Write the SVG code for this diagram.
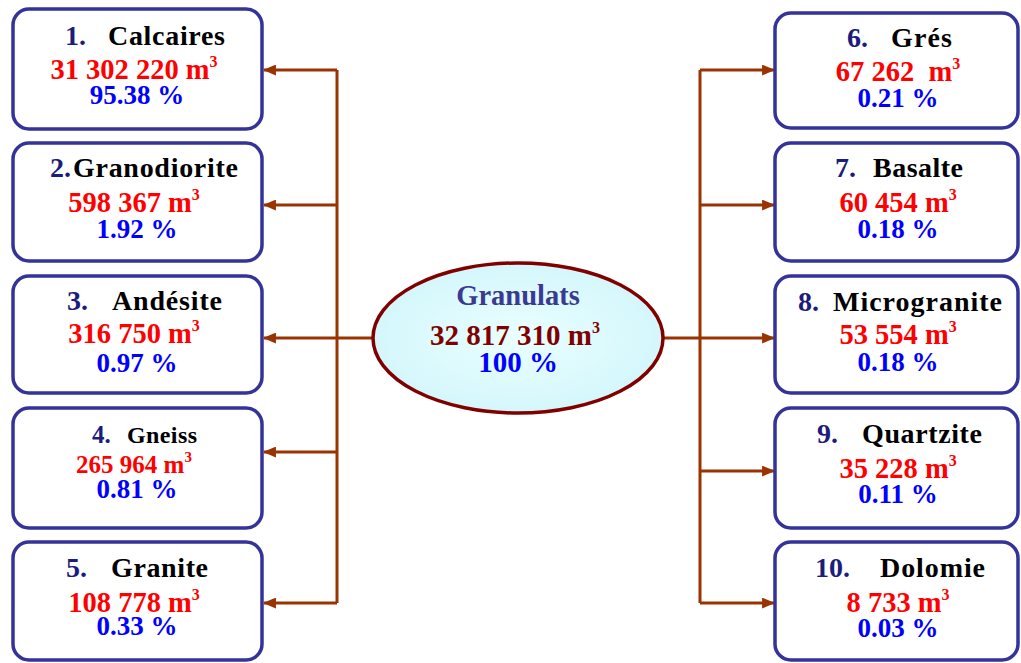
<svg xmlns="http://www.w3.org/2000/svg" width="1021" height="663" viewBox="0 0 1021 663">
<style>
.box{fill:#fff;stroke:#33339a;stroke-width:3.5}
.t{font-family:"Liberation Serif","Times New Roman",serif;font-weight:bold}
.n{fill:#1c1c7c;font-size:28px}
.nm{fill:#000;font-size:28px}
.r{fill:#ff0000;font-size:28.5px;text-anchor:middle;white-space:pre}
.p{fill:#0000ff;font-size:27px;text-anchor:middle}
.sup{font-size:16px}
.con{fill:none;stroke:#993300;stroke-width:3}
</style>
<defs>
<marker id="ah" viewBox="0 0 12 10" refX="11" refY="5" markerWidth="13" markerHeight="11" markerUnits="userSpaceOnUse" orient="auto">
<path d="M0,0 L12,5 L0,10 Z" fill="#993300"/>
</marker>
<radialGradient id="eg" cx="0.5" cy="0.5" r="0.55">
<stop offset="0" stop-color="#eaffff"/>
<stop offset="1" stop-color="#d2f6fb"/>
</radialGradient>
</defs>
<g id="connectors">
<path class="con" d="M375,338 H337"/>
<path class="con" d="M337,70 V603"/>
<path class="con" d="M337,70 H264" marker-end="url(#ah)"/>
<path class="con" d="M337,205 H264" marker-end="url(#ah)"/>
<path class="con" d="M337,338 H264" marker-end="url(#ah)"/>
<path class="con" d="M337,452 H264" marker-end="url(#ah)"/>
<path class="con" d="M337,603 H264" marker-end="url(#ah)"/>
<path class="con" d="M662,338 H700"/>
<path class="con" d="M700,70 V603"/>
<path class="con" d="M700,70 H774" marker-end="url(#ah)"/>
<path class="con" d="M700,205 H774" marker-end="url(#ah)"/>
<path class="con" d="M700,338 H774" marker-end="url(#ah)"/>
<path class="con" d="M700,471 H774" marker-end="url(#ah)"/>
<path class="con" d="M700,603 H774" marker-end="url(#ah)"/>
</g>
<g id="center">
<ellipse cx="518" cy="338" rx="145" ry="75" fill="url(#eg)" stroke="#800000" stroke-width="3.5"/>
<text class="t" x="518" y="305" text-anchor="middle" font-size="28.5" fill="#3a3a92">Granulats</text>
<text class="t" x="515" y="345" text-anchor="middle" font-size="29" fill="#800000">32 817 310 m<tspan class="sup" dy="-12">3</tspan></text>
<text class="t" x="518" y="372" text-anchor="middle" font-size="29" fill="#0000ff">100 %</text>
</g>
<g id="n1">
<rect class="box" x="13" y="9" width="249" height="120" rx="16"/>
<text class="t n" x="65" y="45">1.</text><text class="t nm" x="108" y="45" textLength="117">Calcaires</text>
<text class="t r" x="134" y="79">31 302 220 m<tspan class="sup" dy="-12">3</tspan></text>
<text class="t p" x="137" y="104">95.38 %</text>
</g>
<g id="n2">
<rect class="box" x="13" y="143" width="249" height="118" rx="16"/>
<text class="t n" x="50" y="177">2.</text><text class="t nm" x="73" y="177" textLength="165">Granodiorite</text>
<text class="t r" x="134" y="212">598 367 m<tspan class="sup" dy="-12">3</tspan></text>
<text class="t p" x="137" y="238">1.92 %</text>
</g>
<g id="n3">
<rect class="box" x="13" y="276" width="249" height="117" rx="16"/>
<text class="t n" x="67" y="310">3.</text><text class="t nm" x="112" y="310" textLength="110">Andésite</text>
<text class="t r" x="134" y="343">316 750 m<tspan class="sup" dy="-12">3</tspan></text>
<text class="t p" x="137" y="372">0.97 %</text>
</g>
<g id="n4">
<rect class="box" x="13" y="408" width="249" height="120" rx="16"/>
<text class="t n" x="92" y="443" style="font-size:25px">4.</text><text class="t nm" x="127" y="443" style="font-size:24px" textLength="70">Gneiss</text>
<text class="t r" x="134" y="473" style="font-size:25px">265 964 m<tspan class="sup" dy="-11" style="font-size:15px">3</tspan></text>
<text class="t p" x="137" y="498">0.81 %</text>
</g>
<g id="n5">
<rect class="box" x="13" y="542" width="249" height="118" rx="16"/>
<text class="t n" x="66" y="577">5.</text><text class="t nm" x="111" y="577" textLength="97">Granite</text>
<text class="t r" x="134" y="612">108 778 m<tspan class="sup" dy="-12">3</tspan></text>
<text class="t p" x="137" y="635">0.33 %</text>
</g>
<g id="n6">
<rect class="box" x="775" y="13" width="243" height="115" rx="16"/>
<text class="t n" x="847" y="47">6.</text><text class="t nm" x="891" y="47" textLength="61">Grés</text>
<text class="t r" x="898" y="81">67 262  m<tspan class="sup" dy="-12">3</tspan></text>
<text class="t p" x="898" y="107">0.21 %</text>
</g>
<g id="n7">
<rect class="box" x="775" y="143" width="243" height="118" rx="16"/>
<text class="t n" x="835" y="177">7.</text><text class="t nm" x="873" y="177" textLength="90">Basalte</text>
<text class="t r" x="898" y="212">60 454 m<tspan class="sup" dy="-12">3</tspan></text>
<text class="t p" x="898" y="238">0.18 %</text>
</g>
<g id="n8">
<rect class="box" x="775" y="276" width="243" height="117" rx="16"/>
<text class="t n" x="798" y="311">8.</text><text class="t nm" x="833" y="311" textLength="169">Microgranite</text>
<text class="t r" x="898" y="344">53 554 m<tspan class="sup" dy="-12">3</tspan></text>
<text class="t p" x="898" y="371">0.18 %</text>
</g>
<g id="n9">
<rect class="box" x="775" y="408" width="243" height="120" rx="16"/>
<text class="t n" x="817" y="443">9.</text><text class="t nm" x="862" y="443" textLength="120">Quartzite</text>
<text class="t r" x="898" y="478">35 228 m<tspan class="sup" dy="-12">3</tspan></text>
<text class="t p" x="898" y="503">0.11 %</text>
</g>
<g id="n10">
<rect class="box" x="775" y="542" width="243" height="118" rx="16"/>
<text class="t n" x="815" y="577">10.</text><text class="t nm" x="880" y="577" textLength="105">Dolomie</text>
<text class="t r" x="898" y="612">8 733 m<tspan class="sup" dy="-12">3</tspan></text>
<text class="t p" x="898" y="637">0.03 %</text>
</g>
</svg>
